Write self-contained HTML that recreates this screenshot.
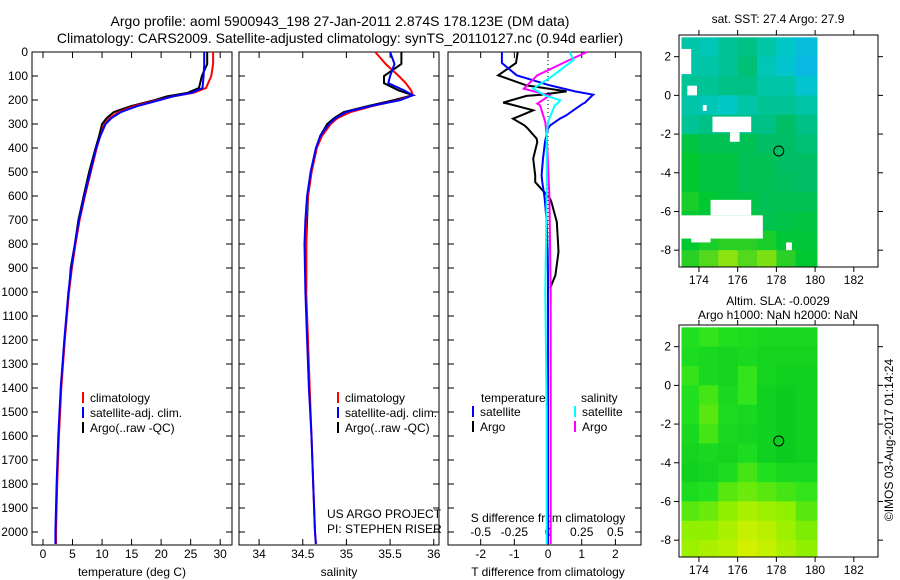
<!DOCTYPE html>
<html><head><meta charset="utf-8"><style>
html,body{margin:0;padding:0;background:#fff;}
svg{display:block;font-family:"Liberation Sans",sans-serif;}
</style></head><body>
<svg id="fig" width="900" height="580" viewBox="0 0 900 580" xmlns="http://www.w3.org/2000/svg">
<rect width="900" height="580" fill="#fff"/>
<text x="340" y="26" font-size="14" text-anchor="middle">Argo profile: aoml 5900943_198 27-Jan-2011 2.874S 178.123E (DM data)</text>
<text x="340" y="43" font-size="14" text-anchor="middle">Climatology: CARS2009. Satellite-adjusted climatology: synTS_20110127.nc (0.94d earlier)</text>
<g id="plots"></g>
</svg>
<script>
// ---------- profile data ----------
const tDepth = [0,50,100,150,170,185,200,225,250,275,300,350,400,500,600,700,800,900,1000,1200,1400,1600,1800,2000,2050];
const tClim  = [28.8,28.8,28.5,27.6,25.5,22,19.5,15.5,12.8,11.3,10.4,9.7,9.1,8.1,7.1,6.2,5.5,4.9,4.4,3.7,3.1,2.7,2.4,2.2,2.2];
const tSat   = [27.3,27.3,27.2,27.0,25.2,22,19.8,16,13.2,11.6,10.6,9.7,9.0,8.0,7.0,6.1,5.4,4.8,4.3,3.6,3.0,2.6,2.3,2.1,2.1];
const tArgo  = [27.8,27.8,26.9,26.4,24.5,21,19.0,15,12.0,10.8,10.0,9.5,8.9,7.8,6.9,6.0,5.4,4.7,4.4];
const sDepth = [0,50,100,130,160,180,200,225,250,275,300,350,400,500,600,700,800,1000,1200,1400,1600,1800,2000,2050];
const sClim  = [35.33,35.45,35.6,35.68,35.74,35.76,35.6,35.3,35.05,34.9,34.82,34.72,34.66,34.6,34.56,34.54,34.54,34.54,34.56,34.58,34.6,34.62,34.64,34.65];
const sSat   = [35.5,35.55,35.5,35.48,35.66,35.76,35.62,35.28,35.0,34.88,34.8,34.7,34.65,34.59,34.55,34.53,34.52,34.53,34.55,34.57,34.6,34.62,34.64,34.65];
const sArgo  = [35.63,35.63,35.43,35.43,35.6,35.76,35.55,35.25,34.97,34.86,34.78,34.7,34.66,34.6,34.56,34.55,34.54,34.54];
const dDepth = [0,46,97,139,164,178,183,211,215,243,264,278,306,319,361,375,444,514,542,611,625,708,800,833,930,985,1200,1600,2050];
const dTSat  = [-1.37,-1.37,-0.93,0.06,0.8,1.34,1.3,1.1,1.04,0.75,0.54,0.35,0.06,0.0,-0.07,-0.09,-0.15,-0.19,-0.17,-0.1,-0.09,-0.04,-0.02,-0.01,0,0,0,0,0];
const dTArgo = [-0.9,-0.95,-1.48,-0.64,0.55,-0.2,-0.64,-1.33,-1.2,-0.44,-0.8,-1.04,-0.7,-0.6,-0.34,-0.32,-0.44,-0.38,-0.38,0.06,0.1,0.26,0.3,0.31,0.22,0.06];
const sdDepth = [0,33,97,153,181,201,215,222,292,347,600,1000,1500,2050];
const dSSat  = [0.16,0.19,0.04,-0.11,-0.02,0.09,0.07,0.05,0,-0.01,-0.01,-0.02,-0.01,-0.01];
const dSArgo = [0.29,0.16,-0.08,-0.18,0.01,-0.04,-0.08,-0.06,-0.02,-0.01,0.01,0.02,0.02,0.02];
const depthTicks = [0,100,200,300,400,500,600,700,800,900,1000,1100,1200,1300,1400,1500,1600,1700,1800,1900,2000];
const tTicks = [0,5,10,15,20,25,30];
const sTicks = [34,34.5,35,35.5,36];
const sTickLabels = ["34","34.5","35","35.5","36"];
const dTTicks = [-2,-1,0,1,2];
const dSTicks = [-0.5,-0.25,0,0.25,0.5];
const dSTickLabels = ["-0.5","-0.25","0","0.25","0.5"];
// ---------- map data (rows lat 3..-9, cols lon 173..180) ----------
const mapLons = [173,174,175,176,177,178,179];
const mapLats = [3,2,1,0,-1,-2,-3,-4,-5,-6,-7,-8];
const sstGrid = [
[0.4,0.35,0.45,0.5,0.4,0.3,0.15],[0.4,0.4,0.45,0.55,0.35,0.25,0.1],[0.45,0.45,0.5,0.5,0.4,0.4,0.25],
[0.4,0.35,0.3,0.4,0.45,0.45,0.4],[0.45,0.5,0.55,0.5,0.5,0.6,0.5],[0.7,0.65,0.65,0.65,0.6,0.6,0.55],
[0.75,0.7,0.7,0.65,0.65,0.6,0.6],[0.75,0.7,0.7,0.65,0.65,0.62,0.6],[0.78,0.75,0.7,0.68,0.65,0.65,0.65],
[0.75,0.72,0.7,0.7,0.66,0.68,0.7],[0.75,0.78,0.8,0.8,0.78,0.72,0.72],[0.8,0.85,0.92,0.85,0.9,0.8,0.75]];
const slaGrid = [
[0.4,0.45,0.4,0.35,0.3,0.3,0.3],[0.35,0.3,0.25,0.3,0.25,0.25,0.25],[0.45,0.3,0.25,0.45,0.25,0.2,0.2],
[0.4,0.5,0.3,0.45,0.2,0.15,0.2],[0.4,0.55,0.35,0.3,0.2,0.15,0.2],[0.3,0.5,0.3,0.25,0.2,0.15,0.2],
[0.25,0.3,0.25,0.35,0.2,0.15,0.2],[0.2,0.25,0.35,0.5,0.4,0.3,0.3],[0.35,0.4,0.55,0.6,0.55,0.5,0.45],
[0.55,0.6,0.7,0.8,0.75,0.7,0.55],[0.7,0.7,0.8,0.9,0.85,0.75,0.65],[0.75,0.8,0.85,0.95,0.9,0.8,0.7]];
// white mask patches [lon0,lon1,lat0,lat1]
const sstMask = [[173.1,173.6,2.4,1.1],[173.4,173.9,0.5,0.0],[174.2,174.4,-0.5,-0.8],[174.7,176.7,-1.1,-1.9],[175.6,176.1,-1.9,-2.4],[174.6,176.7,-5.4,-6.2],[173.1,177.3,-6.2,-7.4],[173.6,174.6,-7.4,-7.6],[178.5,178.8,-7.6,-8.0]];
const mapTicksX = [174,176,178,180,182];
const mapTicksY = [2,0,-2,-4,-6,-8];
const argoLon = 178.123, argoLat = -2.874;

const NS='http://www.w3.org/2000/svg';
const root=document.getElementById('plots');
function mk(tag,attrs,parent){const e=document.createElementNS(NS,tag);for(const k in attrs)e.setAttribute(k,attrs[k]);(parent||root).appendChild(e);return e;}
function txt(s,attrs,parent){const e=mk('text',attrs,parent);e.textContent=s;return e;}

// axes geometry
const PT=52, DPX=0.24, PB=545;
const yD=d=>PT+d*DPX;
const panels=[
 {x0:32,x1:232,vmin:-1.86,vmax:32.0},
 {x0:239,x1:439,vmin:33.77,vmax:36.06},
 {x0:448,x1:641,vmin:-2.97,vmax:2.76}
];
const sx=(p,v)=>p.x0+(v-p.vmin)/(p.vmax-p.vmin)*(p.x1-p.x0);
const sDiffPanel={x0:448,x1:641,vmin:-2.97/4,vmax:2.76/4};

function drawLine(p,depths,vals,color,name,w){
  let d='';
  for(let i=0;i<vals.length;i++){d+=(i?'L':'M')+sx(p,vals[i]).toFixed(1)+' '+yD(depths[i]).toFixed(1);}
  const e=mk('path',{d:d,fill:'none',stroke:color,'stroke-width':w||2});
  
  
}
function frame(p,name){
  const g=mk('g',{});
  
  
  mk('rect',{x:p.x0,y:PT,width:p.x1-p.x0,height:PB-PT,fill:'none',stroke:'#000','stroke-width':1},g);
  depthTicks.forEach(d=>{
    mk('line',{x1:p.x0,x2:p.x0+6,y1:yD(d),y2:yD(d),stroke:'#000'},g);
    mk('line',{x1:p.x1,x2:p.x1-6,y1:yD(d),y2:yD(d),stroke:'#000'},g);
  });
  return g;
}
function xTicks(p,g,ticks,labels,labelY){
  ticks.forEach((t,i)=>{
    const x=sx(p,t);
    mk('line',{x1:x,x2:x,y1:PB,y2:PB-6,stroke:'#000'},g);
    mk('line',{x1:x,x2:x,y1:PT,y2:PT+6,stroke:'#000'},g);
    const l=txt(labels[i],{x:x,y:labelY,'font-size':12,'text-anchor':'middle'},g);
    
    
  });
}
// panel 1
let g1=frame(panels[0],'temperature-panel');
depthTicks.forEach(d=>{const l=txt(String(d),{x:28,y:yD(d)+4,'font-size':12,'text-anchor':'end'},g1);
 
 });
xTicks(panels[0],g1,tTicks,tTicks.map(String),558);
txt('temperature (deg C)',{x:132,y:576,'font-size':12,'text-anchor':'middle',});
drawLine(panels[0],tDepth,tArgo,'#000','temp-argo-line');
drawLine(panels[0],tDepth,tClim,'#f00','temp-climatology-line');
drawLine(panels[0],tDepth,tSat,'#00f','temp-satellite-line');
// panel 2
let g2=frame(panels[1],'salinity-panel');
xTicks(panels[1],g2,sTicks,sTickLabels,558);
txt('salinity',{x:339,y:576,'font-size':12,'text-anchor':'middle',});
drawLine(panels[1],sDepth,sArgo,'#000','sal-argo-line');
drawLine(panels[1],sDepth,sClim,'#f00','sal-climatology-line');
drawLine(panels[1],sDepth,sSat,'#00f','sal-satellite-line');
// panel 3
let g3=frame(panels[2],'difference-panel');
xTicks(panels[2],g3,dTTicks,dTTicks.map(String),558);
dSTicks.forEach((t,i)=>{const l=txt(dSTickLabels[i],{x:sx(sDiffPanel,t),y:536,'font-size':12,'text-anchor':'middle'},g3);
 
 });
txt('S difference from climatology',{x:548,y:522,'font-size':12,'text-anchor':'middle',});
txt('T difference from climatology',{x:548,y:576,'font-size':12,'text-anchor':'middle',});
mk('line',{x1:sx(panels[2],0),x2:sx(panels[2],0),y1:PT,y2:PB,stroke:'#000','stroke-dasharray':'1,3',});
drawLine(panels[2],dDepth,dTArgo,'#000','tdiff-argo-line');
drawLine(panels[2],dDepth,dTSat,'#00f','tdiff-satellite-line');
drawLine(sDiffPanel,sdDepth,dSArgo,'#f0f','sdiff-argo-line');
drawLine(sDiffPanel,sdDepth,dSSat,'#0ff','sdiff-satellite-line');

// legends
function legendEntry(x,y,color,label,name){
  const g=mk('g',{});
  
  
  mk('line',{x1:x,x2:x,y1:y-10,y2:y+1,stroke:color,'stroke-width':2},g);
  txt(label,{x:x+7,y:y,'font-size':12},g);
}
[[83,'#f00','climatology'],[83,'#00f','satellite-adj. clim.'],[83,'#000','Argo(..raw -QC)']].forEach((e,i)=>legendEntry(e[0],402+i*15,e[1],e[2],'legend-temp-'+i));
[[338,'#f00','climatology'],[338,'#00f','satellite-adj. clim.'],[338,'#000','Argo(..raw -QC)']].forEach((e,i)=>legendEntry(e[0],402+i*15,e[1],e[2],'legend-sal-'+i));
txt('temperature',{x:481,y:402,'font-size':12,});
txt('salinity',{x:581,y:402,'font-size':12,});
legendEntry(473,416,'#00f','satellite','legend-tdiff-sat');
legendEntry(473,431,'#000','Argo','legend-tdiff-argo');
legendEntry(575,416,'#0ff','satellite','legend-sdiff-sat');
legendEntry(575,431,'#f0f','Argo','legend-sdiff-argo');
txt('US ARGO PROJECT',{x:327,y:518,'font-size':12,});
txt('PI: STEPHEN RISER',{x:327,y:533,'font-size':12,});

// ---------- maps ----------
function lerpColor(stops,t){
  t=Math.max(0,Math.min(1,t));
  for(let i=1;i<stops.length;i++){if(t<=stops[i][0]){const a=stops[i-1],b=stops[i];const f=(t-a[0])/(b[0]-a[0]);
    const c=a[1].map((v,k)=>Math.round(v+(b[1][k]-v)*f));return 'rgb('+c.join(',')+')';}}
  return 'rgb('+stops[stops.length-1][1].join(',')+')';
}
const sstStops=[[0,[16,176,240]],[0.3,[0,200,200]],[0.6,[0,190,100]],[0.75,[0,200,48]],[1,[208,240,0]]];
const slaStops=[[0,[0,192,32]],[0.4,[32,224,32]],[0.7,[144,240,0]],[1,[224,240,0]]];
function drawMap(top,grid,stops,mask,name,title1,title2){
  const m={x0:679,x1:878,y0:top,y1:top+232,lon0:172.97,lon1:183.25,lat0:3.12,lat1:-8.87};
  const mx=v=>m.x0+(v-m.lon0)/(m.lon1-m.lon0)*(m.x1-m.x0);
  const my=v=>m.y0+(v-m.lat0)/(m.lat1-m.lat0)*(m.y1-m.y0);
  const g=mk('g',{});
  
  
  grid.forEach((row,r)=>row.forEach((v,c)=>{
    const lo0=Math.max(mapLons[c],173.1), lo1=Math.min(mapLons[c]+1,180.1);
    const la0=Math.min(mapLats[r],3.12), la1=Math.max(mapLats[r]-1,-8.87);
    const cell=mk('rect',{x:mx(lo0),y:my(la0),width:mx(lo1+ (c==6?0.1:0))-mx(lo0)+0.5,height:my(la1)-my(la0)+0.5,fill:lerpColor(stops,v)},g);
    
    
  }));
  mask.forEach(b=>{const e=mk('rect',{x:mx(b[0]),y:my(b[2]),width:mx(b[1])-mx(b[0]),height:my(b[3])-my(b[2]),fill:'#fff'},g);
    
    });
  mk('rect',{x:m.x0,y:m.y0,width:m.x1-m.x0,height:m.y1-m.y0,fill:'none',stroke:'#000'},g);
  mapTicksX.forEach(t=>{const x=mx(t);
    mk('line',{x1:x,x2:x,y1:m.y1,y2:m.y1+5,stroke:'#000'},g);
    mk('line',{x1:x,x2:x,y1:m.y0,y2:m.y0-5,stroke:'#000'},g);
    txt(String(t),{x:x,y:m.y1+17,'font-size':12,'text-anchor':'middle'},g);});
  mapTicksY.forEach(t=>{const y=my(t);
    mk('line',{x1:m.x0,x2:m.x0-5,y1:y,y2:y,stroke:'#000'},g);
    mk('line',{x1:m.x1,x2:m.x1+5,y1:y,y2:y,stroke:'#000'},g);
    txt(String(t),{x:m.x0-8,y:y+4,'font-size':12,'text-anchor':'end'},g);});
  const c=mk('circle',{cx:mx(argoLon),cy:my(argoLat),r:5,fill:'none',stroke:'#000','stroke-width':1},g);
  
  
  if(title2){txt(title1,{x:778,y:top-20,'font-size':12,'text-anchor':'middle'},g);txt(title2,{x:778,y:top-6,'font-size':12,'text-anchor':'middle'},g);}
  else txt(title1,{x:778,y:top-12,'font-size':12,'text-anchor':'middle'},g);
}
drawMap(35,sstGrid,sstStops,sstMask,'sst-map','sat. SST: 27.4 Argo: 27.9');
drawMap(325,slaGrid,slaStops,[],'sla-map','Altim. SLA: -0.0029','Argo h1000: NaN h2000: NaN');
const stamp=txt('©IMOS 03-Aug-2017 01:14:24',{x:0,y:0,'font-size':12,'text-anchor':'middle',transform:'translate(893,440) rotate(-90)'});


</script>
</body></html>
